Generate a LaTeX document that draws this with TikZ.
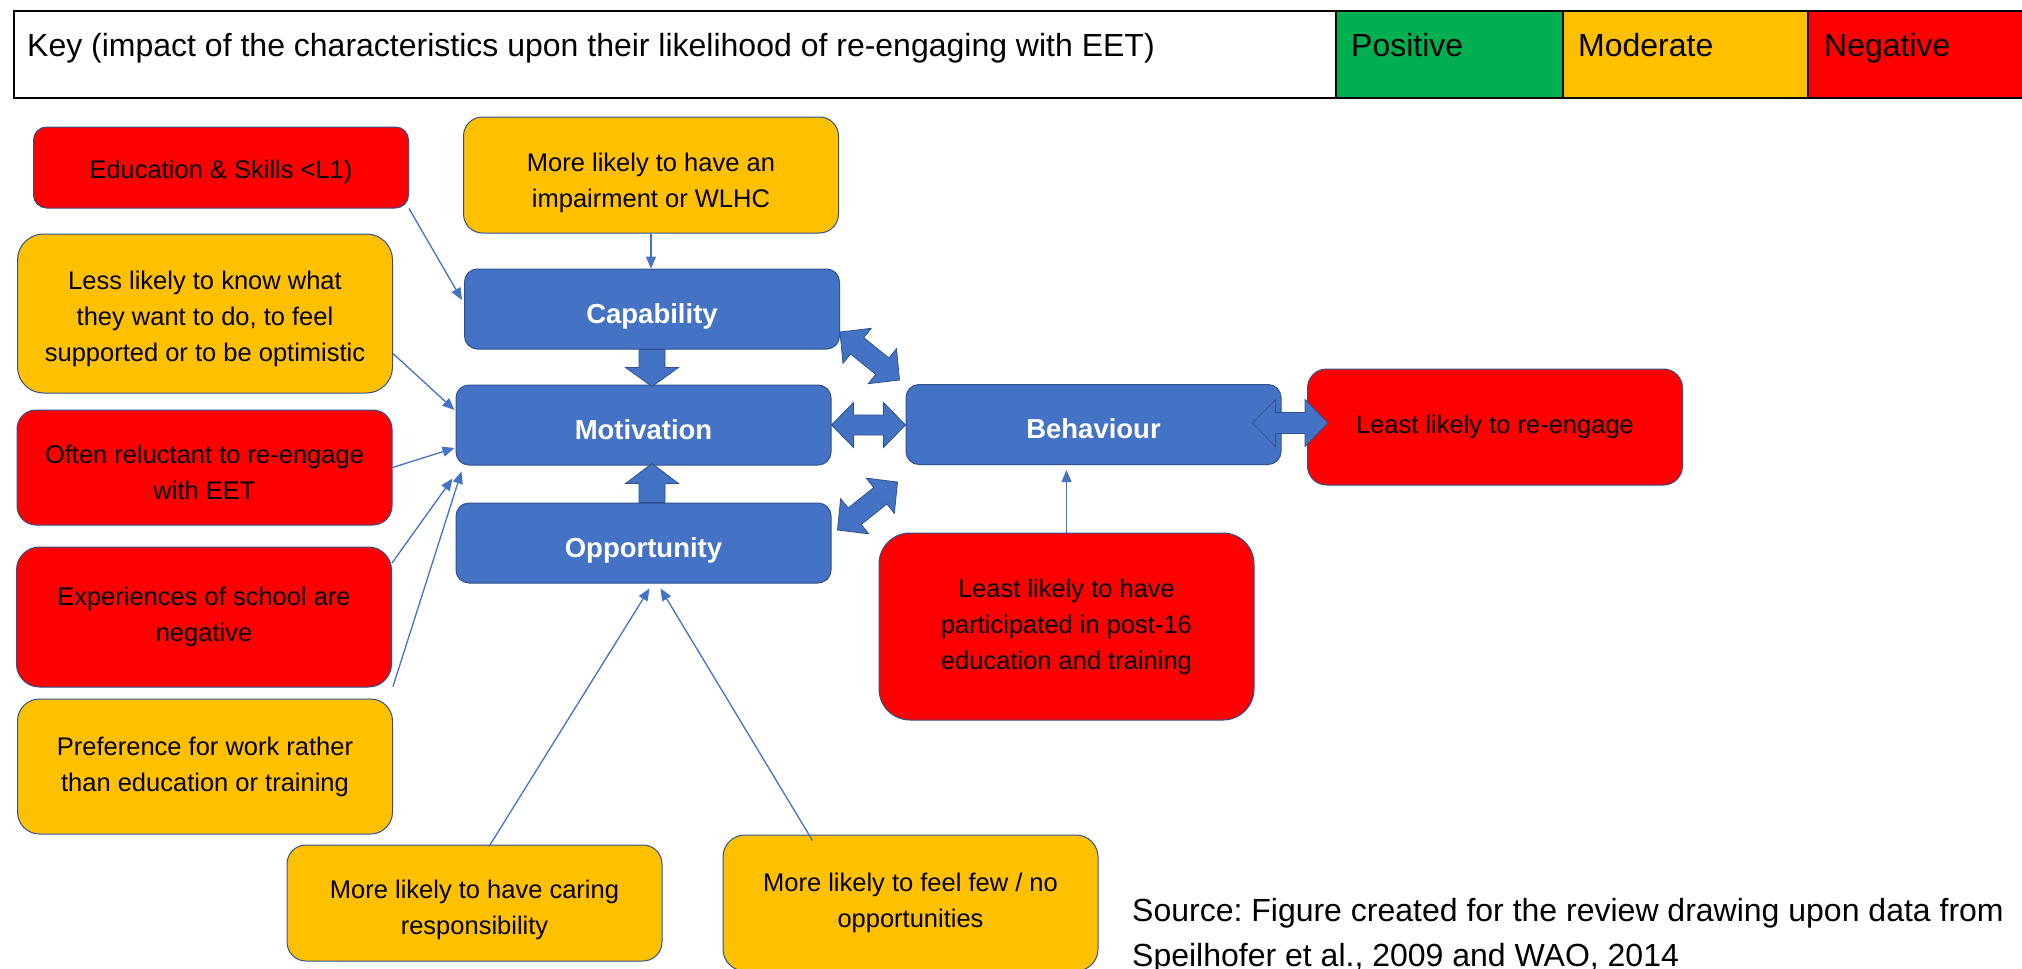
\documentclass[tikz,border=0pt]{standalone}
\usepackage{fontspec}
\setmainfont{Liberation Sans}
\usetikzlibrary{calc,arrows.meta}
\frenchspacing

\definecolor{cblue}{HTML}{4472C4}
\definecolor{cedge}{HTML}{2F528F}
\definecolor{cred}{HTML}{FF0000}
\definecolor{cyel}{HTML}{FFC000}
\definecolor{cgrn}{HTML}{00B050}

% raises the first line so that the text block sits lower in its box
\newcommand{\lowerby}[1]{\rule{0pt}{\dimexpr 18.6pt+2\dimexpr #1\relax\relax}}

\tikzset{
  card/.style={draw=cedge, line width=1pt, minimum width=375pt, align=center,
    inner sep=0pt, font=\fontsize{25.5}{36}\selectfont},
  redcard/.style={card, fill=cred},
  yelcard/.style={card, fill=cyel},
  core/.style={draw=cedge, line width=1pt, fill=cblue, minimum width=375pt,
    minimum height=80pt, rounded corners=13pt, inner sep=0pt, text=white,
    text height=28pt, text depth=0pt,
    font=\fontsize{27.5}{33}\selectfont\bfseries},
  link/.style={draw=cblue, line width=1.3pt, -{Triangle[length=12pt,width=10pt]}},
  block/.style={fill=cblue, draw=cedge, line width=0.8pt, line join=miter},
  keyfont/.style={font=\fontsize{32}{38}\selectfont, inner sep=0pt, anchor=base west},
}

% double-headed block arrow: from, to, shaft half width, head half width, head length
\newcommand{\dblblock}[5]{%
  \path (#1); \pgfgetlastxy{\bax}{\bay}
  \path (#2); \pgfgetlastxy{\bbx}{\bby}
  \pgfmathsetmacro{\bang}{atan2((\bby)-(\bay),(\bbx)-(\bax))}
  \pgfmathsetmacro{\blen}{veclen((\bbx)-(\bax),(\bby)-(\bay))}
  \begin{scope}[shift={(\bax,\bay)}, rotate=\bang]
    \draw[block] (0,0) -- (#5,#4) -- (#5,#3) -- (\blen-#5,#3) -- (\blen-#5,#4)
      -- (\blen,0) -- (\blen-#5,-#4) -- (\blen-#5,-#3) -- (#5,-#3) -- (#5,-#4) -- cycle;
  \end{scope}}

% single-headed block arrow: from, to, shaft half width, head half width, head length
\newcommand{\oneblock}[5]{%
  \path (#1); \pgfgetlastxy{\bax}{\bay}
  \path (#2); \pgfgetlastxy{\bbx}{\bby}
  \pgfmathsetmacro{\bang}{atan2((\bby)-(\bay),(\bbx)-(\bax))}
  \pgfmathsetmacro{\blen}{veclen((\bbx)-(\bax),(\bby)-(\bay))}
  \begin{scope}[shift={(\bax,\bay)}, rotate=\bang]
    \draw[block] (0,#3) -- (\blen-#5,#3) -- (\blen-#5,#4) -- (\blen,0)
      -- (\blen-#5,-#4) -- (\blen-#5,-#3) -- (0,-#3) -- cycle;
  \end{scope}}

\begin{document}
\begin{tikzpicture}[x=1pt, y=-1pt]
\useasboundingbox (0,0) rectangle (2022,969);
\fill[white] (0,0) rectangle (2022,969);

% ---- key bar ----
\node[draw=none, fill=cgrn, minimum width=227pt, minimum height=87pt, anchor=north west, inner sep=0pt] (kpos) at (1336,10) {};
\node[draw=none, fill=cyel, minimum width=245pt, minimum height=87pt, anchor=north west, inner sep=0pt] (kmod) at (1563,10) {};
\node[draw=none, fill=cred, minimum width=240pt, minimum height=87pt, anchor=north west, inner sep=0pt] (kneg) at (1808,10) {};
\draw[line width=1.6pt] (kpos.north west) -- (kpos.south west);
\draw[line width=1.6pt] (kmod.north west) -- (kmod.south west);
\draw[line width=1.6pt] (kneg.north west) -- (kneg.south west);
\node[draw, line width=2.4pt, minimum width=2035pt, minimum height=87pt, anchor=north west, inner sep=0pt] (keyframe) at (13,10) {};
\node[keyfont] (keytext) at (27,56) {Key (impact of the characteristics upon their likelihood of re-engaging with EET)};
\node[keyfont] (tpos) at (1351,56) {Positive};
\node[keyfont] (tmod) at (1578,56) {Moderate};
\node[keyfont] (tneg) at (1824,56) {Negative};

% ---- characteristic boxes ----
\node[redcard, minimum height=81pt, rounded corners=13pt] (edu) at (221,167.5) {\lowerby{4pt}Education \& Skills <L1)};
\node[yelcard, minimum height=116pt, rounded corners=19pt] (wlhc) at (651,175) {\lowerby{8pt}More likely to have an\\impairment or WLHC};
\node[yelcard, minimum height=159pt, rounded corners=26pt] (less) at (205,313.5) {\lowerby{5pt}Less likely to know what\\they want to do, to feel\\supported or to be optimistic};
\node[redcard, minimum height=115pt, rounded corners=19pt] (reluct) at (204.5,467.5) {\lowerby{5pt}Often reluctant to re-engage\\with EET};
\node[redcard, minimum height=140pt, rounded corners=23pt] (exper) at (204,617) {Experiences of school are\\negative};
\node[yelcard, minimum height=135pt, rounded corners=22pt] (pref) at (205,766.5) {Preference for work rather\\than education or training};
\node[yelcard, minimum height=116pt, rounded corners=19pt] (caring) at (474.5,903) {\lowerby{6.5pt}More likely to have caring\\responsibility};
\node[yelcard, minimum height=136pt, rounded corners=22pt] (few) at (910.5,903) {More likely to feel few / no\\opportunities};
\node[redcard, minimum height=116pt, rounded corners=19pt] (least) at (1495,427) {Least likely to re-engage};
\node[redcard, minimum height=187pt, rounded corners=31pt] (part) at (1066.5,626.5) {Least likely to have\\participated in post-16\\education and training};

% ---- COM-B boxes ----
\node[core] (cap) at (652,309) {Capability};
\node[core] (mot) at (643.5,425) {Motivation};
\node[core] (opp) at (643.5,543) {Opportunity};
\node[core] (beh) at (1093.5,424.5) {Behaviour};

% ---- thin connectors ----
\draw[link] (edu.south east) -- ($(cap.west)+(-2,-9)$);
\draw[link] (wlhc.south) -- (wlhc.south |- cap.north);
\draw[link] ($(less.east)+(0,40)$) -- ($(mot.west)+(-1,-15)$);
\draw[link] (reluct.east) -- ($(mot.west)+(-1,23)$);
\draw[link] ($(exper.east)+(0,-54)$) -- ($(mot.south west)+(-3,13)$);
\draw[link] ($(pref.north east)+(0,-12)$) -- ($(mot.south west)+(6,6)$);
\draw[link] ($(caring.north)+(14.5,2)$) -- ($(opp.south)+(6,5)$);
\draw[link] ($(few.north)+(-98,6)$) -- ($(opp.south)+(17,5)$);
\draw[link] (part.north) -- ($(part.north |- beh.south)+(0,5)$);

% ---- block arrows ----
\oneblock{cap.south}{$(cap.south |- mot.north)+(0,2)$}{13}{26.5}{19}
\oneblock{opp.north -| cap.south}{$(mot.south -| cap.south)+(0,-2)$}{13}{26.5}{20}
\dblblock{mot.east}{mot.east -| beh.west}{10}{22.5}{22}
\dblblock{$(cap.east)+(0,23)$}{$(beh.north west)+(-6,-4)$}{10.5}{22.5}{22}
\dblblock{$(opp.east)+(6,-13)$}{$(beh.south west)+(-8,17)$}{10.5}{22.5}{22}
\dblblock{$(beh.east)+(-29,-1.5)$}{$(least.west)+(21,-4)$}{10.5}{23.5}{23}

% ---- source note ----
\node[keyfont] (src1) at (1132,921) {Source: Figure created for the review drawing upon data from};
\node[keyfont] (src2) at (1132,966) {Speilhofer et al., 2009 and WAO, 2014};
\end{tikzpicture}
\end{document}
